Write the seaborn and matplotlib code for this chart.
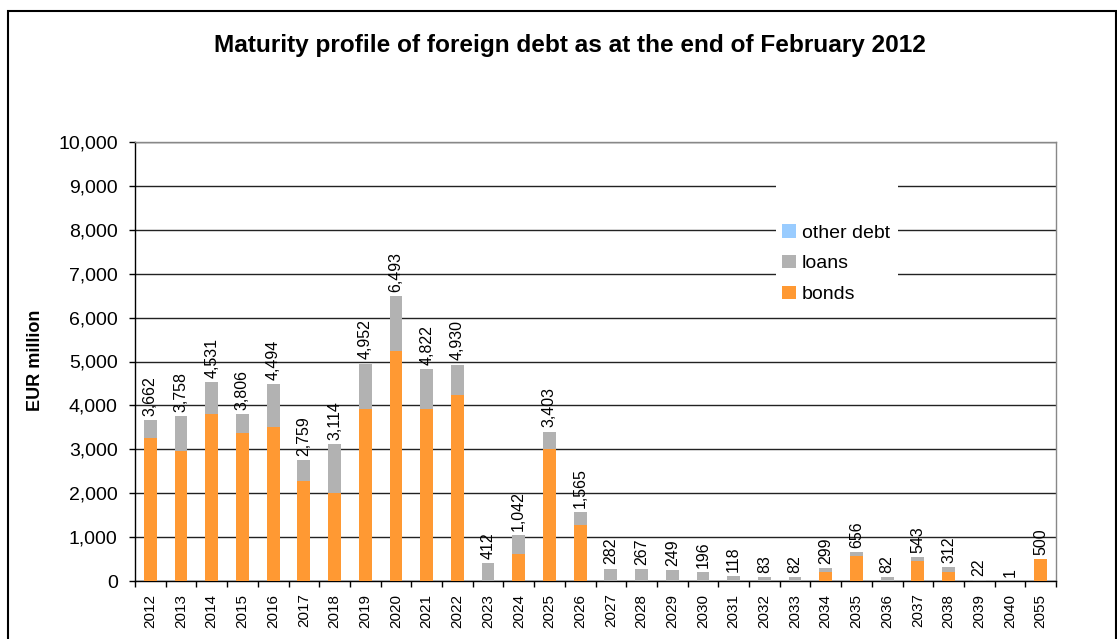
import matplotlib
matplotlib.use("Agg")
import matplotlib.pyplot as plt
from matplotlib.patches import Patch, Rectangle
import matplotlib.ticker as mticker
import seaborn as sns
import pandas as pd

years = ["2012", "2013", "2014", "2015", "2016", "2017", "2018", "2019", "2020", "2021",
         "2022", "2023", "2024", "2025", "2026", "2027", "2028", "2029", "2030", "2031",
         "2032", "2033", "2034", "2035", "2036", "2037", "2038", "2039", "2040", "2055"]
bonds = [3260, 2955, 3800, 3365, 3500, 2270, 2000, 3910, 5230, 3910,
         4230, 0, 625, 3000, 1275, 0, 0, 0, 0, 0,
         0, 0, 210, 575, 0, 460, 210, 0, 0, 500]
loans = [402, 803, 731, 441, 994, 489, 1114, 1042, 1263, 912,
         700, 412, 417, 403, 290, 282, 267, 249, 196, 118,
         83, 82, 89, 81, 82, 83, 102, 22, 1, 0]
other_debt = [0] * 30
yticks = [0, 1000, 2000, 3000, 4000, 5000, 6000, 7000, 8000, 9000, 10000]

C_BONDS = "#FF9933"
C_LOANS = "#B2B2B2"
C_OTHER = "#99CCFF"

df = pd.DataFrame({"year": years, "bonds": bonds, "loans": loans, "other": other_debt})
df["bl"] = df["bonds"] + df["loans"]
df["total"] = df["bl"] + df["other"]

sns.set_style("white")
plt.rcParams["font.family"] = ["Liberation Sans", "DejaVu Sans"]
plt.rcParams["text.color"] = "black"
plt.rcParams["xtick.color"] = "black"
plt.rcParams["ytick.color"] = "black"
plt.rcParams["axes.labelcolor"] = "black"

W, H = 1117, 639
fig = plt.figure(figsize=(W / 100, H / 100), dpi=100)
ax = fig.add_axes([135 / W, 1 - 581 / H, (1056 - 135) / W, (581 - 142) / H])

bw = 0.42
for col, c in [("total", C_OTHER), ("bl", C_LOANS), ("bonds", C_BONDS)]:
    sns.barplot(data=df, x="year", y=col, color=c, saturation=1, width=bw, ax=ax,
                zorder=3, linewidth=0, edgecolor="none")

ax.set_ylim(0, 10000)
ax.set_xlim(-0.5, len(years) - 0.5)
ax.set_yticks(yticks)
ax.yaxis.set_major_formatter(mticker.FuncFormatter(lambda v, p: f"{int(v):,}"))
ax.set_axisbelow(True)
ax.yaxis.grid(True, color="#222222", linewidth=1.0)
ax.xaxis.grid(False)

for s in ["left", "bottom"]:
    ax.spines[s].set_color("black")
    ax.spines[s].set_linewidth(1.0)
for s in ["top", "right"]:
    ax.spines[s].set_color("#888888")
    ax.spines[s].set_linewidth(1.0)
    ax.spines[s].set_visible(True)

ax.set_xlabel("")
ax.set_ylabel("")
ax.tick_params(axis="y", which="major", direction="out", length=4.5, width=1, color="black",
               labelsize=14, pad=8, left=True, labelcolor="black")
ax.tick_params(axis="x", which="major", length=0, labelsize=11, pad=9, labelrotation=90,
               labelcolor="black")
ax.set_xticks([i - 0.5 for i in range(len(years) + 1)], minor=True)
ax.tick_params(axis="x", which="minor", direction="out", length=4, width=1, color="black", bottom=True)

for i, t in enumerate(df["total"]):
    ax.annotate(f"{int(t):,}", xy=(i, t), xytext=(0, 3), textcoords="offset points",
                ha="center", va="bottom", rotation=90, fontsize=11.5, color="black", zorder=5)

# legend with white background box
fig.patches.append(Rectangle((776 / W, 1 - 305 / H), (898 - 776) / W, (305 - 183) / H,
                             transform=fig.transFigure, facecolor="white", edgecolor="none",
                             zorder=2))
handles = [Patch(facecolor=C_OTHER, edgecolor="none", label="other debt"),
           Patch(facecolor=C_LOANS, edgecolor="none", label="loans"),
           Patch(facecolor=C_BONDS, edgecolor="none", label="bonds")]
leg = fig.legend(handles=handles, loc="upper left", bbox_to_anchor=(782 / W, 1 - 224 / H),
                 bbox_transform=fig.transFigure, frameon=False, fontsize=14,
                 handlelength=0.72, handleheight=0.7, handletextpad=0.3, labelspacing=0.68,
                 borderpad=0, borderaxespad=0)
leg.set_zorder(6)
for t in leg.get_texts():
    t.set_color("black")

fig.text(570 / W, 1 - 52 / H, "Maturity profile of foreign debt as at the end of February 2012",
         ha="center", va="baseline", fontsize=17.6, fontweight="bold", color="black")
fig.text(35 / W, 1 - 360 / H, "EUR million", ha="center", va="center", rotation=90,
         fontsize=13, fontweight="bold", color="black")

fig.patches.append(Rectangle((8 / W, -0.05), (1116 - 8) / W, 1.05 - 11 / H,
                             transform=fig.transFigure, facecolor="none", edgecolor="black",
                             linewidth=1.5, zorder=10))

fig.savefig("out.png", dpi=100, facecolor="white")
